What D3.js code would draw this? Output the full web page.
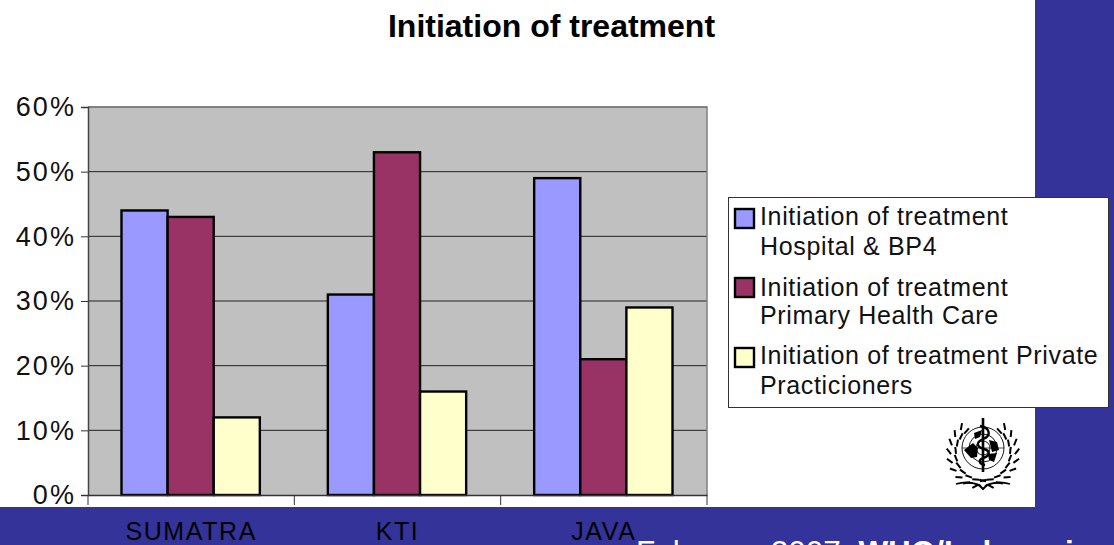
<!DOCTYPE html>
<html>
<head>
<meta charset="utf-8">
<style>
  html, body { margin: 0; padding: 0; background: #fff; overflow: hidden; }
  svg { display: block; font-family: "Liberation Sans", Arial, sans-serif; }
</style>
<script src="https://cdn.jsdelivr.net/npm/d3@7"></script>
</head>
<body>
<svg width="1114" height="545"></svg>
<script>
var categories = ["SUMATRA", "KTI", "JAVA"];
var hospital = [44, 31, 49];
var primaryCare = [43, 53, 21];
var privatePract = [12, 16, 29];
var yTicks = [0, 10, 20, 30, 40, 50, 60];
var legendLines = [
  ["Initiation of treatment", "Hospital & BP4"],
  ["Initiation of treatment", "Primary Health Care"],
  ["Initiation of treatment Private", "Practicioners"]
];
var colors = ["#9999ff", "#993366", "#ffffcc"];

var svg = d3.select("svg"),
  margin = { top: 107, left: 88 },
  width = 619,
  height = 388;

var navy = "#333399";

// slide background: band on the right and along the bottom
svg.append("rect").attr("x", 1035).attr("y", 0).attr("width", 79).attr("height", 545).attr("fill", navy);
svg.append("rect").attr("x", 0).attr("y", 507).attr("width", 1114).attr("height", 38).attr("fill", navy);

svg.append("text")
  .attr("x", 551.5).attr("y", 37)
  .attr("text-anchor", "middle")
  .style("font-size", "32px").style("font-weight", "bold")
  .attr("fill", "#000")
  .text("Initiation of treatment");

var x = d3.scaleBand().domain(categories).range([0, width]);
var xInner = d3.scaleBand().domain(d3.range(3)).range([33.5, x.bandwidth() - 34.5]);
var y = d3.scaleLinear().domain([0, 60]).range([height, 0]);

var g = svg.append("g").attr("transform", `translate(${margin.left},${margin.top})`);

g.append("rect").attr("width", width).attr("height", height).attr("fill", "#c0c0c0");

g.selectAll(".grid")
  .data(yTicks.slice(1))
  .enter().append("line")
  .attr("class", "grid")
  .attr("x1", 0).attr("x2", width)
  .attr("y1", d => y(d)).attr("y2", d => y(d))
  .attr("stroke", "#222").attr("stroke-width", 1);

[hospital, primaryCare, privatePract].forEach(function(values, s) {
  g.selectAll(".bar" + s)
    .data(values)
    .enter().append("rect")
    .attr("class", "bar" + s)
    .attr("x", (d, i) => x(categories[i]) + xInner(s))
    .attr("y", d => y(d))
    .attr("width", xInner.bandwidth())
    .attr("height", d => height - y(d))
    .attr("fill", colors[s])
    .attr("stroke", "#000")
    .attr("stroke-width", 2.4);
});

// plot frame
g.append("path")
  .attr("d", `M0,0H${width}V${height}`)
  .attr("fill", "none").attr("stroke", "#808080").attr("stroke-width", 1.5);

var yAxis = g.append("g")
  .call(d3.axisLeft(y).tickValues(yTicks).tickSize(7).tickPadding(5).tickFormat(d => d + "%"));
yAxis.selectAll("text").style("font-size", "27px").style("letter-spacing", "2.1px").attr("fill", "#111").attr("dy", "0.33em");
yAxis.selectAll("line").attr("stroke", "#333");
yAxis.select(".domain").attr("stroke", "#444").attr("stroke-width", 1.5);

var xAxis = g.append("g").attr("transform", `translate(0,${height})`)
  .call(d3.axisBottom(x).tickSize(0).tickPadding(27));
xAxis.selectAll("text")
  .style("font-size", "25px").style("letter-spacing", "1.6px").attr("fill", "#000")
  .attr("dy", "0.71em");
xAxis.select(".domain").attr("stroke", "#333").attr("stroke-width", 1.5);
xAxis.selectAll(".sep")
  .data(d3.range(4))
  .enter().append("line")
  .attr("class", "sep")
  .attr("x1", d => d * x.step()).attr("x2", d => d * x.step())
  .attr("y1", 0).attr("y2", 10)
  .attr("stroke", "#333");

// legend
var legend = svg.append("g").attr("transform", "translate(728,197)");
legend.append("rect").attr("x", 0.5).attr("y", 0.5).attr("width", 380).attr("height", 210)
  .attr("fill", "#fff").attr("stroke", "#333");
var swatchTop = [12, 81, 151];
var textBase = [[28, 58], [99, 127], [167, 197]];
legendLines.forEach(function(lines, i) {
  legend.append("rect")
    .attr("x", 7).attr("y", swatchTop[i]).attr("width", 19).attr("height", 19)
    .attr("fill", colors[i]).attr("stroke", "#000").attr("stroke-width", 2.4);
  lines.forEach(function(t, j) {
    legend.append("text")
      .attr("x", 32).attr("y", textBase[i][j])
      .style("font-size", "25px").style("letter-spacing", "0.65px").attr("fill", "#111")
      .text(t);
  });
});

// WHO emblem
var emblem = svg.append("g").attr("transform", "translate(983,448)")
  .attr("fill", "none").attr("stroke", "#000");
[21, 14, 7].forEach(r => emblem.append("circle").attr("r", r).attr("stroke-width", 0.9));
emblem.append("line").attr("x1", -21).attr("x2", 21).attr("stroke-width", 0.7);
emblem.append("path").attr("fill", "#000").attr("stroke", "none")
  .attr("d", "M-19,2L-10,-5L-5,0L-6,9L-12,10Z M-9,-15L-1,-18L-3,-11L-8,-9Z M6,-8L14,-6L16,2L9,4Z M5,6L14,5L11,14L6,12Z");
emblem.append("line").attr("y1", -30).attr("y2", 24).attr("stroke-width", 2.6);
emblem.append("path").attr("stroke-width", 2.4)
  .attr("d", "M-3,-22C8,-20 8,-12 0,-9C-7,-6 -7,-1 1,1C8,3 7,8 0,10C-5,12 -4,16 2,17");
[-1, 1].forEach(function(side) {
  d3.range(10).forEach(function(k) {
    var a = (-46 + k * 16) * Math.PI / 180;
    [27, 32].forEach(function(r) {
      var px = side * r * Math.cos(a), py = 5 + r * Math.sin(a);
      var tilt = r == 27 ? 1.5 : 0.95;
      emblem.append("line")
        .attr("x1", px).attr("y1", py)
        .attr("x2", px + side * 7 * Math.cos(a - tilt))
        .attr("y2", py + 7 * Math.sin(a - tilt))
        .attr("stroke-width", 2);
    });
  });
  emblem.append("path").attr("stroke-width", 1.8)
    .attr("d", `M${side * 2},38C${side * 10},34 ${side * 20},34 ${side * 27},36`);
});

// footer is cut off by the bottom of the page
svg.append("text")
  .attr("x", 636).attr("y", 563)
  .style("font-size", "31.5px").attr("fill", "#fff")
  .text("February 2007, ")
  .append("tspan").style("font-weight", "bold").text("WHO/Indonesia");
</script>
</body>
</html>
